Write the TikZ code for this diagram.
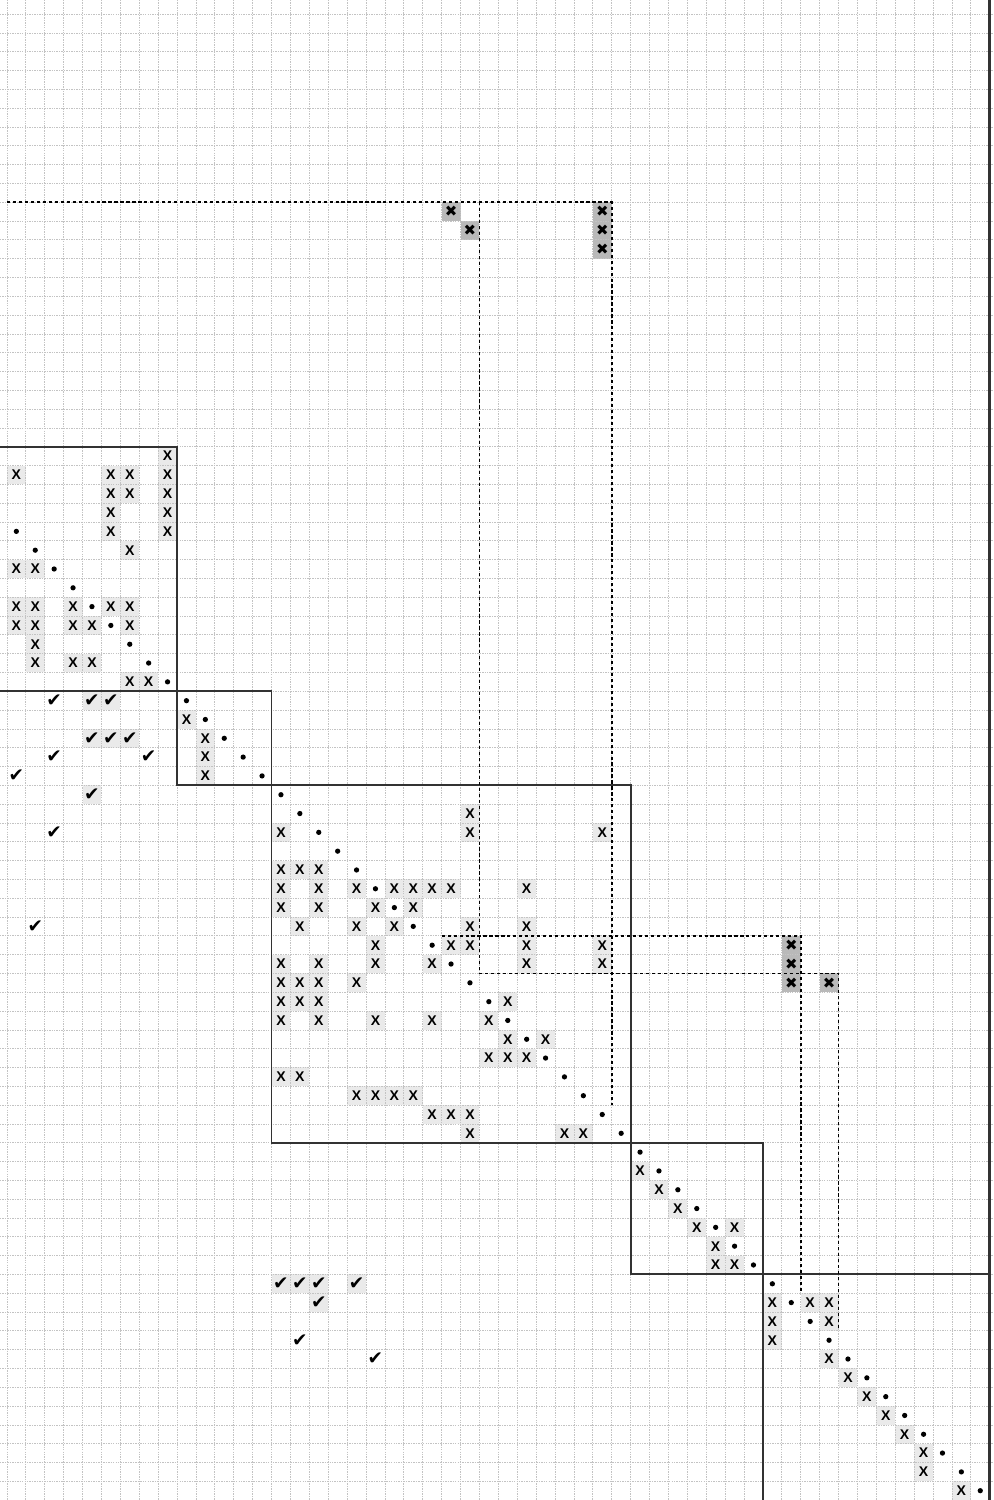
\documentclass[tikz,border=0pt]{standalone}
\usepackage{fontspec}
\setsansfont{Liberation Sans}
\newfontfamily\symfont{DejaVu Sans}
\definecolor{gridgray}{RGB}{195, 195, 195}
\definecolor{cellshade}{RGB}{234, 234, 234}
\definecolor{pivshade}{RGB}{185, 185, 185}
\definecolor{boxline}{RGB}{50, 50, 50}
\usepackage{tikz}
\usetikzlibrary{calc}

\begin{document}
\begin{tikzpicture}[
  x=0.378cm, y=-0.3762cm,
  gridline/.style={gridgray, line width=0.4pt, dash pattern=on 0.8pt off 0.6pt},
  blockline/.style={boxline, line width=1.1pt},
  fillpath/.style={black, line width=1pt, dash pattern=on 1.8pt off 1.6pt},
  xmark/.style={inner sep=0pt, font=\sffamily\bfseries\fontsize{8}{9}\selectfont},
  okmark/.style={inner sep=0pt, font=\symfont\fontsize{10.5}{11}\selectfont},
  bigmark/.style={inner sep=0pt, font=\symfont\fontsize{8.5}{9}\selectfont}
]
  \useasboundingbox (-0.3651,-0.7496) rectangle (52.227,78.995);

  % shaded cells
  \foreach \c/\r in {8/23, 0/24,5/24,6/24,8/24, 5/25,6/25,8/25, 5/26,8/26, 5/27,8/27, 6/28,
      0/29,1/29, 0/31,1/31,3/31,5/31,6/31, 0/32,1/32,3/32,4/32,6/32, 1/33, 1/34,3/34,4/34, 6/35,7/35,
      9/37, 10/38, 10/39, 10/40,
      24/42, 14/43,24/43,31/43, 14/45,15/45,16/45, 14/46,16/46,18/46,20/46,21/46,22/46,23/46,27/46,
      14/47,16/47,19/47,21/47, 15/48,18/48,20/48,24/48,27/48, 19/49,23/49,24/49,27/49,31/49,
      14/50,16/50,19/50,22/50,27/50,31/50, 14/51,15/51,16/51,18/51, 14/52,15/52,16/52,26/52,
      14/53,16/53,19/53,22/53,25/53, 26/54,28/54, 25/55,26/55,27/55, 14/56,15/56,
      18/57,19/57,20/57,21/57, 22/58,23/58,24/58, 24/59,29/59,30/59,
      33/61, 34/62, 35/63, 36/64,38/64, 37/65, 37/66,38/66,
      40/68,42/68,43/68, 40/69,43/69, 40/70, 43/71, 44/72, 45/73, 46/74, 47/75, 48/76, 48/77, 50/78,
      4/36,5/36, 4/38,5/38,6/38, 4/41, 14/67,15/67,16/67,18/67, 16/68}
    \fill[cellshade] (\c,\r) rectangle ++(1,1);
  \foreach \c/\r in {23/10, 31/10, 24/11, 31/11, 31/12, 41/49, 41/50, 41/51, 43/51}
    \fill[pivshade] (\c,\r) rectangle ++(1,1);

  % grid paper
  \foreach \c in {0,...,52}
    \draw[gridline] (\c,-0.75) -- (\c,79);
  \foreach \r in {0,...,79}
    \draw[gridline] (-0.37,\r) -- (52.23,\r);

  % blocks
  \draw[blockline] (-0.37,23) -- (9,23) -- (9,41) -- (33,41) -- (33,67) -- (52,67);
  \draw[blockline] (-0.37,36) -- (14,36) -- (14,60) -- (40,60) -- (40,79);
  \draw[boxline, line width=1.6pt] (52,-0.75) -- (52,79);

  % fill paths
  \draw[fillpath] (0,10) -- (32,10) -- (32,58);
  \draw[fillpath] (25,10) -- (25,51) -- (44,51) -- (44,70);
  \draw[fillpath] (23,49) -- (42,49) -- (42,68);

  % diagonal
  \foreach \c in {0,...,51}
    \fill (\c+0.5,\c+27.5) circle[radius=1.5pt];

  % nonzeros
  \foreach \c/\r in {8/23, 0/24,5/24,6/24,8/24, 5/25,6/25,8/25, 5/26,8/26, 5/27,8/27, 6/28,
      0/29,1/29, 0/31,1/31,3/31,5/31,6/31, 0/32,1/32,3/32,4/32,6/32, 1/33, 1/34,3/34,4/34, 6/35,7/35,
      9/37, 10/38, 10/39, 10/40,
      24/42, 14/43,24/43,31/43, 14/45,15/45,16/45, 14/46,16/46,18/46,20/46,21/46,22/46,23/46,27/46,
      14/47,16/47,19/47,21/47, 15/48,18/48,20/48,24/48,27/48, 19/49,23/49,24/49,27/49,31/49,
      14/50,16/50,19/50,22/50,27/50,31/50, 14/51,15/51,16/51,18/51, 14/52,15/52,16/52,26/52,
      14/53,16/53,19/53,22/53,25/53, 26/54,28/54, 25/55,26/55,27/55, 14/56,15/56,
      18/57,19/57,20/57,21/57, 22/58,23/58,24/58, 24/59,29/59,30/59,
      33/61, 34/62, 35/63, 36/64,38/64, 37/65, 37/66,38/66,
      40/68,42/68,43/68, 40/69,43/69, 40/70, 43/71, 44/72, 45/73, 46/74, 47/75, 48/76, 48/77, 50/78}
    \node[xmark] (x-\c-\r) at (\c+0.5,\r+0.5) {X};

  % checked entries
  \foreach \c/\r in {2/36,4/36,5/36, 4/38,5/38,6/38, 2/39,7/39, 0/40, 4/41, 2/43, 1/48,
      14/67,15/67,16/67,18/67, 16/68, 15/70, 19/71}
    \node[okmark] (ok-\c-\r) at (\c+0.5,\r+0.5) {✔};

  % fill-in
  \foreach \c/\r in {23/10, 31/10, 24/11, 31/11, 31/12, 41/49, 41/50, 41/51, 43/51}
    \node[bigmark] (fi-\c-\r) at (\c+0.5,\r+0.5) {✖};
\end{tikzpicture}
\end{document}
